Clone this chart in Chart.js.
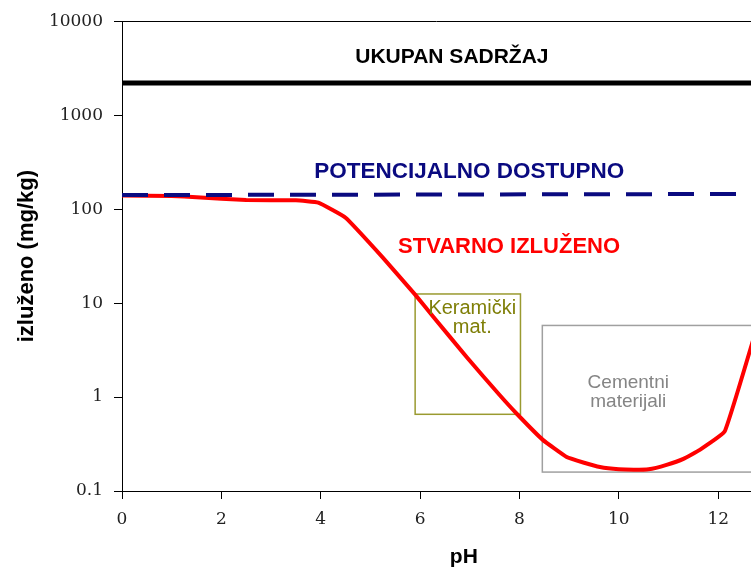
<!DOCTYPE html>
<html>
<head>
<meta charset="utf-8">
<script src="https://cdn.jsdelivr.net/npm/chart.js@4/dist/chart.umd.min.js"></script>
<style>
  html, body { margin: 0; padding: 0; background: #fff; }
  #wrap { width: 751px; height: 574px; }
</style>
</head>
<body>
<div id="wrap"><canvas id="my_chart" width="751" height="574"></canvas></div>
<script>
// data
var xTicks = [0, 2, 4, 6, 8, 10, 12];
var yTicks = [0.1, 1, 10, 100, 1000, 10000];

var totalX = [0, 12.7];
var totalY = [2200, 2200];

var potentialX = [0, 12.7];
var potentialY = [141, 145];

var leachedX = [0, 1, 1.5, 2.5, 3.5, 3.95, 4.5, 5.25, 5.9, 6.26, 6.94, 7.6, 7.95, 8.47, 8.95, 9.3, 9.62, 10.0, 10.3, 10.6, 10.96, 11.3, 11.63, 12.13, 12.7];
var leachedY = [140, 138, 134, 125, 124, 117, 81, 30.5, 12.3, 7.2, 2.65, 1.05, 0.66, 0.35, 0.23, 0.2, 0.18, 0.17, 0.168, 0.17, 0.19, 0.22, 0.274, 0.43, 4.0];

// material ranges (x1, x2, y1, y2)
var ceramicRange = [5.9, 8.02, 0.655, 12.5];
var cementRange = [8.46, 13.5, 0.159, 5.78];

function pts(xs, ys) {
    return xs.map(function (x, i) { return { x: x, y: ys[i] }; });
}

var notes = [
    { text: ["UKUPAN SADRŽAJ"], x: 6.64, y: 4100, color: "#000000", font: "bold 21px 'Liberation Sans', Arial", base: "middle" },
    { text: ["POTENCIJALNO DOSTUPNO"], x: 6.99, y: 250, color: "#0a0a80", font: "bold 22.5px 'Liberation Sans', Arial", base: "middle" },
    { text: ["STVARNO IZLUŽENO"], x: 7.79, y: 40, color: "#ff0000", font: "bold 22px 'Liberation Sans', Arial", base: "middle" },
    { text: ["Keramički", "mat."], x: 7.05, y: 7.74, color: "#7f7f08", font: "20px 'Liberation Sans', Arial", base: "alphabetic" },
    { text: ["Cementni", "materijali"], x: 10.19, y: 1.24, color: "#858585", font: "19px 'Liberation Sans', Arial", base: "alphabetic" }
];

var overlay = {
    id: "overlay",
    beforeDatasetsDraw: function (chart) {
        var ctx = chart.ctx, xs = chart.scales.x, ys = chart.scales.y;
        function box(r, color) {
            var x1 = xs.getPixelForValue(r[0]), x2 = xs.getPixelForValue(r[1]);
            var y1 = ys.getPixelForValue(r[3]), y2 = ys.getPixelForValue(r[2]);
            ctx.save();
            ctx.strokeStyle = color;
            ctx.lineWidth = 1.5;
            ctx.strokeRect(x1, y1, x2 - x1, y2 - y1);
            ctx.restore();
        }
        box(ceramicRange, "#9a9a30");
        box(cementRange, "#a0a0a0");
    },
    afterDatasetsDraw: function (chart) {
        var ctx = chart.ctx, xs = chart.scales.x, ys = chart.scales.y, a = chart.chartArea;
        ctx.save();
        notes.forEach(function (n) {
            ctx.font = n.font;
            ctx.fillStyle = n.color;
            ctx.textAlign = "center";
            ctx.textBaseline = n.base;
            var px = xs.getPixelForValue(n.x), py = ys.getPixelForValue(n.y);
            n.text.forEach(function (t, i) { ctx.fillText(t, px, py + i * 19); });
        });
        // top frame line
        ctx.strokeStyle = "#000";
        ctx.lineWidth = 1;
        ctx.beginPath();
        ctx.moveTo(a.left, Math.round(a.top) + 0.5);
        ctx.lineTo(a.right, Math.round(a.top) + 0.5);
        ctx.stroke();
        // x axis title
        ctx.font = "bold 21px 'Liberation Sans', Arial";
        ctx.fillStyle = "#000";
        ctx.textAlign = "center";
        ctx.textBaseline = "middle";
        ctx.fillText("pH", xs.getPixelForValue(6.88), a.bottom + 66);
        ctx.restore();
    }
};

var tickFont = { family: "'DejaVu Serif', 'Liberation Serif', serif", size: 17 };

new Chart(document.getElementById("my_chart").getContext("2d"), {
    type: "line",
    data: {
        datasets: [
            { data: pts(totalX, totalY), borderColor: "#000", borderWidth: 5, pointRadius: 0, tension: 0 },
            { data: pts(potentialX, potentialY), borderColor: "#0a0a80", borderWidth: 4, borderDash: [26, 16], pointRadius: 0, tension: 0 },
            { data: pts(leachedX, leachedY), borderColor: "#ff0000", borderWidth: 4, pointRadius: 0, tension: 0.1, borderJoinStyle: "round" }
        ]
    },
    options: {
        responsive: false,
        animation: false,
        events: [],
        layout: { padding: { top: 19, right: 0, left: 0, bottom: 0 } },
        plugins: { legend: { display: false }, tooltip: { enabled: false } },
        scales: {
            x: {
                type: "linear",
                min: 0,
                max: 12.66,
                afterBuildTicks: function (s) { s.ticks = xTicks.map(function (v) { return { value: v }; }); },
                afterFit: function (s) { s.height = 83; },
                ticks: { font: tickFont, color: "#222", padding: 10, maxRotation: 0, callback: function (v) { return String(v); } },
                grid: { drawOnChartArea: false, tickLength: 8, color: "#000" },
                border: { color: "#000", width: 1 }
            },
            y: {
                type: "logarithmic",
                min: 0.1,
                max: 10000,
                afterBuildTicks: function (s) { s.ticks = yTicks.map(function (v) { return { value: v }; }); },
                afterFit: function (s) { s.width = 122; },
                ticks: { font: tickFont, color: "#222", padding: 11, callback: function (v) { return String(v); } },
                grid: { drawOnChartArea: false, tickLength: 8, color: "#000" },
                border: { color: "#000", width: 1 },
                title: {
                    display: true,
                    text: "izluženo (mg/kg)",
                    color: "#000",
                    font: { family: "'Liberation Sans', Arial", size: 22, weight: "bold" },
                    padding: { top: 14, bottom: 0 }
                }
            }
        }
    },
    plugins: [overlay]
});
</script>
</body>
</html>
